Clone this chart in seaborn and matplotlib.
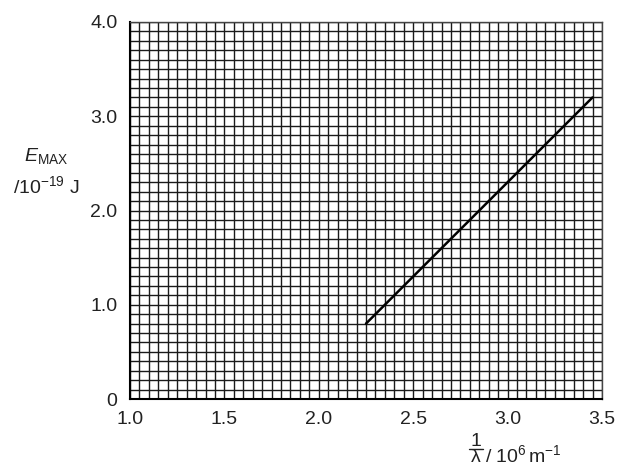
import matplotlib
matplotlib.use('Agg')
import matplotlib.pyplot as plt
import seaborn as sns
import pandas as pd
import numpy as np
from matplotlib.ticker import MultipleLocator, FixedLocator
from matplotlib.lines import Line2D

# line: 1/lambda (10^6 m^-1) vs E_max (10^-19 J)
inv_wavelength = [2.25, 3.45]
e_max = [0.8, 3.2]

x_ticks = [1.0, 1.5, 2.0, 2.5, 3.0, 3.5]
y_ticks = [0, 1.0, 2.0, 3.0, 4.0]
y_tick_labels = ['0', '1.0', '2.0', '3.0', '4.0']

df = pd.DataFrame({'inv_lambda': inv_wavelength, 'e_max': e_max})

sns.set_style('white')
plt.rcParams['font.family'] = ['Liberation Sans', 'DejaVu Sans']
plt.rcParams['mathtext.fontset'] = 'custom'
plt.rcParams['mathtext.rm'] = 'Liberation Sans'
plt.rcParams['mathtext.it'] = 'Liberation Sans:italic'

W, H = 622, 468
fig = plt.figure(figsize=(6.22, 4.68), dpi=100)
ax = fig.add_axes([130 / W, 69 / H, 472 / W, 377 / H])

ax.set_xlim(1.0, 3.5)
ax.set_ylim(0, 4.0)

# fine graph-paper grid
ax.xaxis.set_minor_locator(MultipleLocator(0.05))
ax.yaxis.set_minor_locator(MultipleLocator(0.1))
ax.xaxis.set_major_locator(FixedLocator(x_ticks))
ax.yaxis.set_major_locator(FixedLocator(y_ticks))
ax.grid(which='both', color='#1a1a1a', linewidth=1.0)
ax.set_axisbelow(True)

sns.lineplot(data=df, x='inv_lambda', y='e_max', ax=ax, color='black', linewidth=1.8)

ax.set_xticklabels([f'{t:.1f}' for t in x_ticks], fontsize=14, color='#222222')
ax.set_yticklabels(y_tick_labels, fontsize=14, color='#222222')
ax.tick_params(which='major', direction='out', length=7, width=1.2, color='black', pad=2)
ax.tick_params(which='minor', length=0)

for side in ['left', 'bottom']:
    ax.spines[side].set_color('black')
    ax.spines[side].set_linewidth(1.5)
for side in ['top', 'right']:
    ax.spines[side].set_color('#444444')
    ax.spines[side].set_linewidth(1.0)

ax.set_xlabel('')
ax.set_ylabel('')

# y axis label
fig.text(46 / W, 1 - 156 / H, r'$E$$_{\mathrm{MAX}}$', fontsize=14, color='#222222',
         ha='center', va='center')
fig.text(46 / W, 1 - 186 / H, r'/10$^{-19}$ J', fontsize=14, color='#222222',
         ha='center', va='center')

# x axis label: 1/lambda fraction then unit
fig.text(476 / W, 1 - 441 / H, '1', fontsize=14, color='#222222', ha='center', va='center')
fig.text(476 / W, 1 - 458 / H, 'λ', fontsize=14, color='#222222', ha='center', va='center')
fig.add_artist(Line2D([469 / W, 483 / W], [1 - 449 / H, 1 - 449 / H], color='#222222',
                      linewidth=1.0, transform=fig.transFigure))
fig.text(485 / W, 1 - 462 / H, r'/ 10$^{6}\,$m$^{-1}$', fontsize=14, color='#222222',
         ha='left', va='baseline')

fig.savefig('out.png', dpi=100)
